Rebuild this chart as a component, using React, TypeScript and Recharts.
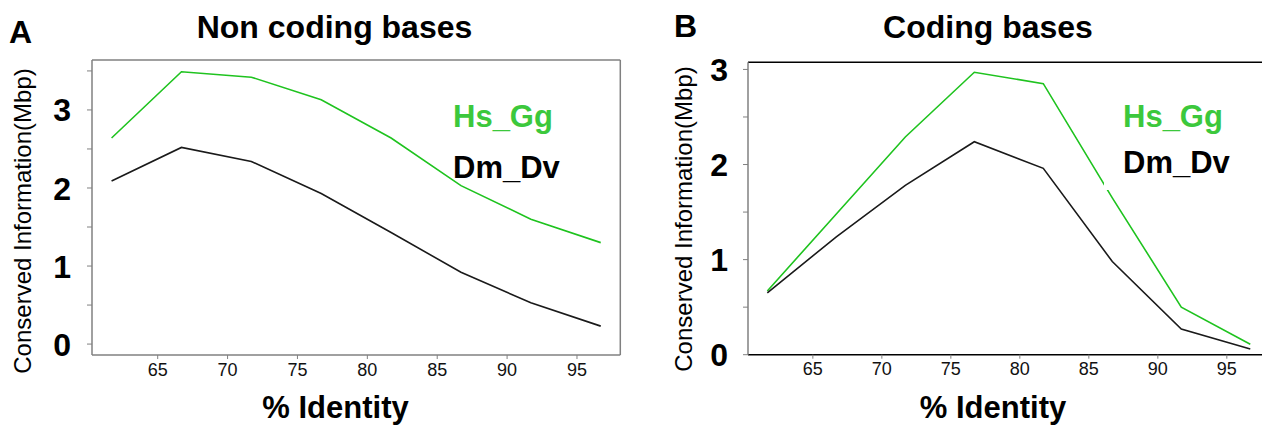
import { Line, LineChart, XAxis, YAxis } from "recharts";

const identity = [61.7, 66.7, 71.7, 76.7, 81.7, 86.7, 91.7, 96.7];
const nonCodingHsGg = [2.64, 3.49, 3.42, 3.13, 2.64, 2.03, 1.6, 1.3];
const nonCodingDmDv = [2.09, 2.52, 2.34, 1.93, 1.43, 0.92, 0.53, 0.23];
const codingHsGg = [0.67, 1.48, 2.29, 2.97, 2.85, 1.65, 0.5, 0.11];
const codingDmDv = [0.65, 1.24, 1.78, 2.24, 1.96, 0.98, 0.27, 0.06];

const identityTicks = [65, 70, 75, 80, 85, 90, 95];
const nonCodingTicks = [0, 0.5, 1, 1.5, 2, 2.5, 3, 3.5];
const codingTicks = [0, 0.5, 1, 1.5, 2, 2.5, 3];
const seriesNames = ["Hs_Gg", "Dm_Dv"];

const FONT = '"Liberation Sans", Arial, Helvetica, sans-serif';
const GREEN = "#1fc31f";
const GREEN_TEXT = "#3cc83c";
const GRAY = "#808080";
const X_DOMAIN: [number, number] = [60.3, 98.1];

function toRows(hs: number[], dm: number[]) {
  return identity.map((x, i) => ({ identity: x, hs: hs[i], dm: dm[i] }));
}

// only whole numbers get a label, half steps keep the bare tick mark
function BigTick(props: any) {
  const { x, y, payload } = props;
  if (!Number.isInteger(payload.value)) return <g />;
  return (
    <text
      x={x}
      y={y}
      dy="0.36em"
      textAnchor="end"
      fontSize={32}
      fontWeight="bold"
      fontFamily={FONT}
      fill="#000"
    >
      {payload.value}
    </text>
  );
}

type PanelProps = {
  rows: { identity: number; hs: number; dm: number }[];
  yDomain: [number, number];
  yTicks: number[];
  margin: { top: number; right: number; bottom: number; left: number };
  tickMargin: number;
  leftColor: string;
  frameColor: string;
  rightFrame: boolean;
};

function Panel({
  rows,
  yDomain,
  yTicks,
  margin,
  tickMargin,
  leftColor,
  frameColor,
  rightFrame,
}: PanelProps) {
  return (
    <LineChart width={640} height={426} data={rows} margin={margin}>
      <XAxis
        xAxisId="b"
        dataKey="identity"
        type="number"
        domain={X_DOMAIN}
        ticks={identityTicks}
        allowDataOverflow
        height={30}
        tickSize={4}
        tickMargin={4}
        stroke={frameColor}
        strokeWidth={1.5}
        axisLine
        tickLine={{ stroke: GRAY, strokeWidth: 1 }}
        tick={{ fontSize: 18, fill: "#111", fontFamily: FONT }}
      />
      <XAxis
        xAxisId="t"
        orientation="top"
        dataKey="identity"
        type="number"
        domain={X_DOMAIN}
        allowDataOverflow
        height={1}
        stroke={frameColor}
        strokeWidth={1.5}
        axisLine
        tick={false}
        tickLine={false}
      />
      <YAxis
        yAxisId="l"
        type="number"
        domain={yDomain}
        ticks={yTicks}
        allowDataOverflow
        width={60}
        tickSize={5}
        tickMargin={tickMargin}
        stroke={leftColor}
        strokeWidth={1.5}
        axisLine
        tickLine={{ stroke: GRAY, strokeWidth: 1 }}
        tick={BigTick}
      />
      {rightFrame && (
        <YAxis
          yAxisId="r"
          orientation="right"
          type="number"
          domain={yDomain}
          width={1}
          stroke={frameColor}
          strokeWidth={1.5}
          axisLine
          tick={false}
          tickLine={false}
        />
      )}
      <Line
        xAxisId="b"
        yAxisId="l"
        dataKey="hs"
        name={seriesNames[0]}
        stroke={GREEN}
        strokeWidth={1.6}
        dot={false}
        type="linear"
        isAnimationActive={false}
      />
      <Line
        xAxisId="b"
        yAxisId="l"
        dataKey="dm"
        name={seriesNames[1]}
        stroke="#1a1a1a"
        strokeWidth={1.6}
        dot={false}
        type="linear"
        isAnimationActive={false}
      />
    </LineChart>
  );
}

const yLabel = "Conserved Information(Mbp)";

export default function App() {
  return (
    <div
      style={{
        position: "absolute",
        left: 0,
        top: 0,
        width: 1262,
        height: 426,
        overflow: "hidden",
        background: "#fff",
      }}
    >
      <div style={{ position: "absolute", left: 0, top: 0 }}>
        <Panel
          rows={toRows(nonCodingHsGg, nonCodingDmDv)}
          yDomain={[-0.14, 3.64]}
          yTicks={nonCodingTicks}
          margin={{ top: 59, right: 18.7, bottom: 41, left: 32 }}
          tickMargin={16}
          leftColor={GRAY}
          frameColor={GRAY}
          rightFrame
        />
      </div>
      <div style={{ position: "absolute", left: 640, top: 0 }}>
        <Panel
          rows={toRows(codingHsGg, codingDmDv)}
          yDomain={[0, 3.075]}
          yTicks={codingTicks}
          margin={{ top: 61.3, right: 10.4, bottom: 41.3, left: 48 }}
          tickMargin={15}
          leftColor={GRAY}
          frameColor="#000"
          rightFrame={false}
        />
      </div>
      <svg
        width={1262}
        height={426}
        style={{ position: "absolute", left: 0, top: 0 }}
        fontFamily={FONT}
      >
        <text x={9} y={43} fontSize={32} fontWeight="bold">A</text>
        <text x={334.5} y={38} fontSize={32} fontWeight="bold" textAnchor="middle">
          Non coding bases
        </text>
        <text x={674} y={37} fontSize={32} fontWeight="bold">B</text>
        <text x={988} y={38} fontSize={32} fontWeight="bold" textAnchor="middle">
          Coding bases
        </text>

        <text
          transform="translate(22,221) rotate(-90)"
          fontSize={24}
          textAnchor="middle"
          dominantBaseline="central"
        >
          {yLabel}
        </text>
        <text
          transform="translate(683,219) rotate(-90)"
          fontSize={24}
          textAnchor="middle"
          dominantBaseline="central"
        >
          {yLabel}
        </text>

        <text x={335.5} y={418} fontSize={31} fontWeight="bold" textAnchor="middle">
          % Identity
        </text>
        <text x={993} y={418} fontSize={31} fontWeight="bold" textAnchor="middle">
          % Identity
        </text>

        <text x={453} y={127} fontSize={31} fontWeight="bold" fill={GREEN_TEXT}>
          {seriesNames[0]}
        </text>
        <text x={453} y={178} fontSize={31} fontWeight="bold" fill="#000">
          {seriesNames[1]}
        </text>

        <rect x={1104} y={92} width={140} height={98} fill="#fff" />
        <text x={1123} y={126.5} fontSize={31} fontWeight="bold" fill={GREEN_TEXT}>
          {seriesNames[0]}
        </text>
        <text x={1123} y={173} fontSize={31} fontWeight="bold" fill="#000">
          {seriesNames[1]}
        </text>
      </svg>
    </div>
  );
}
